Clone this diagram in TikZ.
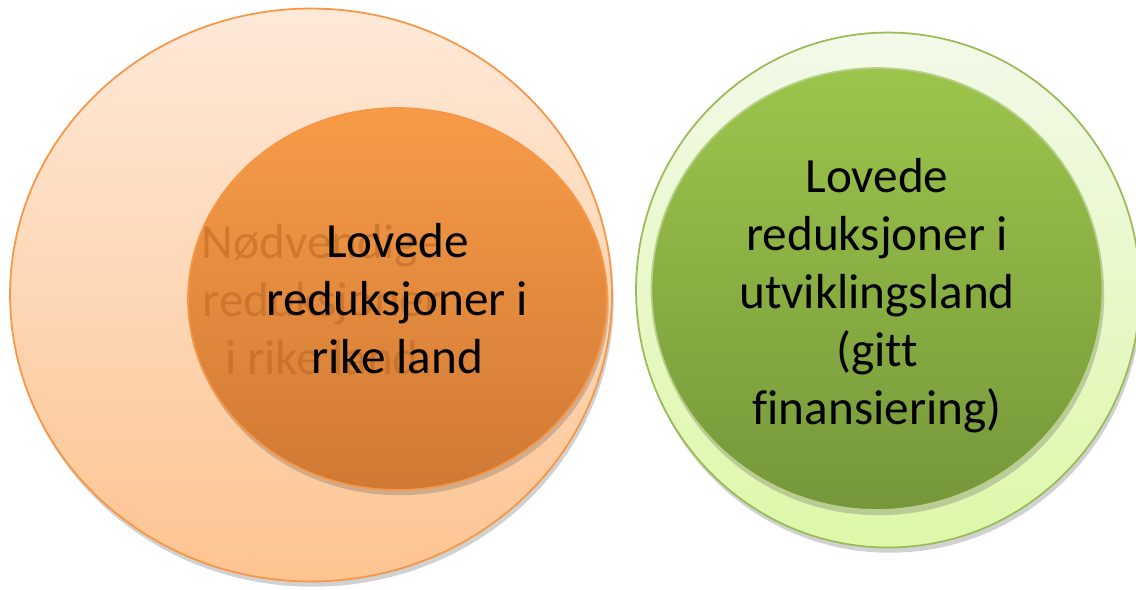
\documentclass[tikz,border=0pt]{standalone}
\usepackage{fontspec}
\setmainfont{Carlito}[Ligatures=NoCommon]
\usetikzlibrary{shapes.geometric,shadows}
\definecolor{orangeline}{HTML}{F79646}
\definecolor{peachtop}{HTML}{FEE9D8}
\definecolor{peachbot}{HTML}{FDC491}
\definecolor{orangetop}{HTML}{F79B47}
\definecolor{orangebot}{HTML}{CF7934}
\definecolor{fadedtext}{HTML}{B8621F}
\definecolor{greenline}{HTML}{9BBB59}
\definecolor{limetop}{HTML}{F3F9E9}
\definecolor{limebot}{HTML}{DDF8A8}
\definecolor{greentop}{HTML}{9CC54B}
\definecolor{greenbot}{HTML}{75973A}

\begin{document}
\begin{tikzpicture}[x=0.02cm, y=-0.02cm,
	blob/.style={ellipse, inner sep=0pt, line width=1pt, drop shadow={shadow xshift=1pt, shadow yshift=-3pt, opacity=.3, fill=black!60}},
	bigtext/.style={font=\fontsize{28}{33}\selectfont, align=center}]
	\useasboundingbox (0,0) rectangle (1136,589);
	\node[blob, draw=orangeline, top color=peachtop, bottom color=peachbot, minimum width=12.04cm, minimum height=11.46cm] (rich) at (311,295) {};
	\node[blob, draw=orangeline, top color=orangetop, bottom color=orangebot, minimum width=8.38cm, minimum height=7.64cm] (pledged) at (397.5,299) {};
	\node[bigtext, text=fadedtext, text opacity=.5] (needed) at (322,300) {Nødvendige\\reduksjoner\\i rike land};
	\node[bigtext] (pledgedtext) at (pledged) {Lovede\\reduksjoner i\\rike land};
	\node[blob, draw=greenline, top color=limetop, bottom color=limebot, minimum width=10.08cm, minimum height=10.3cm] (poorring) at (888,290) {};
	\node[blob, draw=greenline!70, top color=greentop, bottom color=greenbot, minimum width=9.02cm, minimum height=8.84cm] (poor) at (877,289) {};
	\node[bigtext] (poortext) at (877,296) {Lovede\\reduksjoner i\\utviklingsland\\(gitt\\finansiering)};
\end{tikzpicture}
\end{document}
